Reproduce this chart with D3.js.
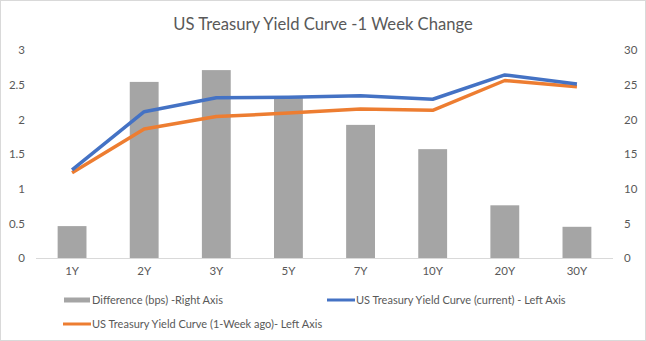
<!DOCTYPE html>
<html><head><meta charset="utf-8">
<script src="https://cdn.jsdelivr.net/npm/d3@7"></script>
<style>
body{margin:0;background:#fff;}
text{font-family:Lato,"Open Sans",sans-serif;}
</style></head>
<body><svg id="c" width="646" height="341"></svg>
<script>
const categories = ["1Y","2Y","3Y","5Y","7Y","10Y","20Y","30Y"];
const differenceBps = [4.6,25.4,27.1,23.2,19.2,15.7,7.6,4.5];
const currentYield = [1.27,2.11,2.31,2.32,2.34,2.29,2.64,2.51];
const weekAgoYield = [1.23,1.86,2.04,2.09,2.15,2.13,2.56,2.47];
const leftTicks = [0,0.5,1,1.5,2,2.5,3];
const rightTicks = [0,5,10,15,20,25,30];
const seriesNames = ["Difference (bps) -Right Axis","US Treasury Yield Curve (current) - Left Axis","US Treasury Yield Curve (1-Week ago)- Left Axis"];

const svg = d3.select("#c");
svg.append("rect").attr("x",0.5).attr("y",0.5).attr("width",645).attr("height",340)
  .attr("fill","#fff").attr("stroke","#d9d9d9");

const L=36, R=613, T=50, B=258;
const xc = d3.scaleBand().domain(categories).range([L,R]);
const yL = d3.scaleLinear().domain([0,3]).range([B,T]);
const yR = d3.scaleLinear().domain([0,30]).range([B,T]);
const grey="#595959";

svg.append("text").attr("x",323).attr("y",30).attr("text-anchor","middle")
  .attr("font-size",16.6).attr("fill",grey).text("US Treasury Yield Curve -1 Week Change");

// bars
const bw = xc.bandwidth()/2.5;
svg.append("g").selectAll("rect").data(categories).join("rect")
  .attr("x",d=>xc(d)+xc.bandwidth()/2-bw/2).attr("width",bw)
  .attr("y",(d,i)=>yR(differenceBps[i])).attr("height",(d,i)=>B-yR(differenceBps[i]))
  .attr("fill","#a5a5a5");

// axis line
svg.append("line").attr("x1",L).attr("x2",R).attr("y1",B+0.5).attr("y2",B+0.5).attr("stroke","#d9d9d9");

// left axis
const ga = svg.append("g").attr("transform",`translate(${L},0)`)
  .call(d3.axisLeft(yL).tickValues(leftTicks).tickSize(0).tickPadding(11).tickFormat(d=>d));
ga.select(".domain").remove();
ga.selectAll("text").attr("font-size",11.5).attr("fill",grey).attr("font-family","Lato");
// right axis
const gr = svg.append("g").attr("transform",`translate(${R},0)`)
  .call(d3.axisRight(yR).tickValues(rightTicks).tickSize(0).tickPadding(11).tickFormat(d=>d));
gr.select(".domain").remove();
gr.selectAll("text").attr("font-size",11.5).attr("fill",grey).attr("font-family","Lato");
// bottom axis
const gb = svg.append("g").attr("transform",`translate(0,${B})`)
  .call(d3.axisBottom(xc).tickSize(0).tickPadding(9));
gb.select(".domain").remove();
gb.selectAll("text").attr("font-size",11.5).attr("fill",grey).attr("font-family","Lato");

const line = d3.line().x((d,i)=>xc(categories[i])+xc.bandwidth()/2).y(d=>yL(d));
svg.append("path").datum(weekAgoYield).attr("d",line).attr("fill","none")
  .attr("stroke","#ed7d31").attr("stroke-width",3.5).attr("stroke-linejoin","round");
svg.append("path").datum(currentYield).attr("d",line).attr("fill","none")
  .attr("stroke","#4472c4").attr("stroke-width",3.5).attr("stroke-linejoin","round");

// legend
const leg = [
  {name:seriesNames[0], x:64, y:300, type:"bar", color:"#a5a5a5"},
  {name:seriesNames[1], x:327, y:300, type:"line", color:"#4472c4"},
  {name:seriesNames[2], x:63, y:324, type:"line", color:"#ed7d31"}
];
const lg = svg.append("g").selectAll("g").data(leg).join("g").attr("transform",d=>`translate(${d.x},${d.y})`);
lg.filter(d=>d.type==="bar").append("rect").attr("x",0).attr("y",-2.5).attr("width",26).attr("height",5).attr("fill",d=>d.color);
lg.filter(d=>d.type==="line").append("line").attr("x1",0).attr("x2",28).attr("stroke",d=>d.color).attr("stroke-width",3);
lg.append("text").attr("x",d=>d.type==="bar"?28:29).attr("y",4).attr("font-size",11).attr("fill",grey).text(d=>d.name);
</script></body></html>
